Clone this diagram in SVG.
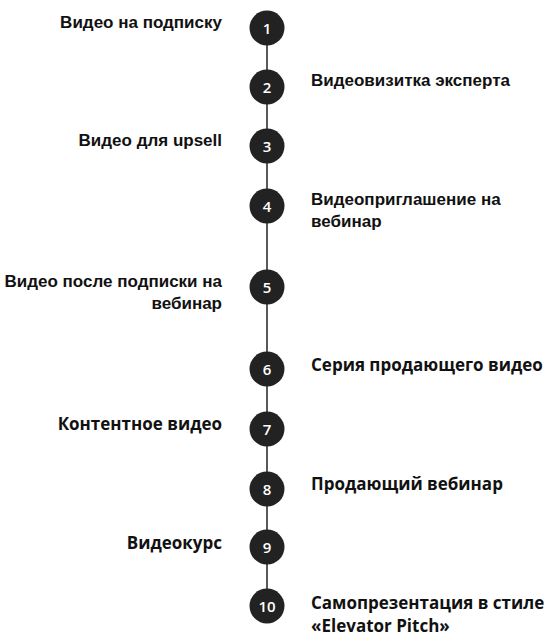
<svg xmlns="http://www.w3.org/2000/svg" width="550" height="638" viewBox="0 0 550 638">
<style>
.c{fill:#222}
.n{font-family:"Open Sans","Liberation Sans",sans-serif;font-weight:600;font-size:15px;fill:#fff;text-anchor:middle}
.l{font-family:"Liberation Sans",Arial,sans-serif;font-weight:bold;font-size:17px;fill:#111}
.r{text-anchor:end}
.o{font-family:"Open Sans","Liberation Sans",sans-serif;font-weight:bold;font-size:17px;fill:#111}
.k{stroke:#222;stroke-width:1.5;fill:none}
</style>
<rect width="550" height="638" fill="#fff"/>
<g id="connectors">
<line class="k" x1="267" y1="45" x2="267" y2="70"/>
<line class="k" x1="267" y1="104" x2="267" y2="129"/>
<line class="k" x1="267" y1="163" x2="267" y2="189"/>
<line class="k" x1="267" y1="223" x2="267" y2="270"/>
<line class="k" x1="267" y1="304" x2="267" y2="352"/>
<line class="k" x1="267" y1="386" x2="267" y2="412"/>
<line class="k" x1="267" y1="446" x2="267" y2="472"/>
<line class="k" x1="267" y1="506" x2="267" y2="530"/>
<line class="k" x1="267" y1="564" x2="267" y2="589"/>
</g>
<g id="n1"><circle class="c" cx="267" cy="28" r="17.5"/><text class="n" x="267" y="33.5">1</text><text class="l r" x="222" y="28">Видео на подписку</text></g>
<g id="n2"><circle class="c" cx="267" cy="87" r="17.5"/><text class="n" x="267" y="92.5">2</text><text class="l" x="311" y="86">Видеовизитка эксперта</text></g>
<g id="n3"><circle class="c" cx="267" cy="146" r="17.5"/><text class="n" x="267" y="151.5">3</text><text class="l r" x="222" y="146">Видео для upsell</text></g>
<g id="n4"><circle class="c" cx="267" cy="206" r="17.5"/><text class="n" x="267" y="211.5">4</text><text class="l" x="311" y="205">Видеоприглашение на<tspan x="311" dy="22">вебинар</tspan></text></g>
<g id="n5"><circle class="c" cx="267" cy="287" r="17.5"/><text class="n" x="267" y="292.5">5</text><text class="l r" x="222" y="287">Видео после подписки на<tspan x="222" dy="22">вебинар</tspan></text></g>
<g id="n6"><circle class="c" cx="267" cy="369" r="17.5"/><text class="n" x="267" y="374.5">6</text><text class="o" x="311" y="371">Серия продающего видео</text></g>
<g id="n7"><circle class="c" cx="267" cy="429" r="17.5"/><text class="n" x="267" y="434.5">7</text><text class="o r" x="222" y="430">Контентное видео</text></g>
<g id="n8"><circle class="c" cx="267" cy="489" r="17.5"/><text class="n" x="267" y="494.5">8</text><text class="o" x="311" y="490">Продающий вебинар</text></g>
<g id="n9"><circle class="c" cx="267" cy="547" r="17.5"/><text class="n" x="267" y="552.5">9</text><text class="o r" x="222" y="549">Видеокурс</text></g>
<g id="n10"><circle class="c" cx="267" cy="606" r="17.5"/><text class="n" x="267" y="611.5">10</text><text class="o" x="311" y="609">Самопрезентация в стиле<tspan x="311" dy="23">«Elevator Pitch»</tspan></text></g>
</svg>
